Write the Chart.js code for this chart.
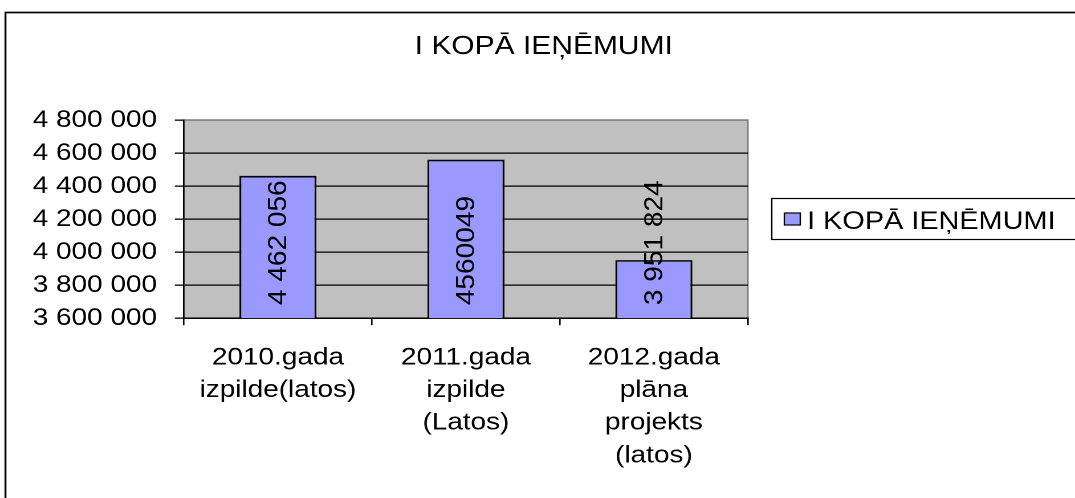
<!DOCTYPE html>
<html>
<head>
<meta charset="utf-8">
<script src="https://cdn.jsdelivr.net/npm/chart.js@4/dist/chart.umd.min.js"></script>
<style>
  html, body { margin: 0; padding: 0; background: #fff; overflow: hidden; }
  #wrap { width: 1075px; height: 498px; overflow: hidden; }
  /* the original picture is stretched sideways a little, so the canvas is too */
  #chart { transform: scaleX(1.14); transform-origin: 0 0; }
</style>
</head>
<body>
<div id="wrap"><canvas id="chart" width="943" height="498"></canvas></div>
<script>
var seriesName = 'I KOPĀ IEŅĒMUMI';
var categories = [
  ['2010.gada', 'izpilde(latos)'],
  ['2011.gada', 'izpilde', '(Latos)'],
  ['2012.gada', 'plāna', 'projekts', '(latos)']
];
var revenue = [4462056, 4560049, 3951824];
var valueLabels = ['4 462 056', '4560049', '3 951 824'];
var yTickLabels = ['3 600 000', '3 800 000', '4 000 000', '4 200 000', '4 400 000', '4 600 000', '4 800 000'];

var FONT = '"Liberation Sans", Arial, sans-serif';

// white page, outer frame, grey plot area, title, legend
var framePlugin = {
  id: 'frame',
  beforeDraw: function(chart) {
    var ctx = chart.ctx, a = chart.chartArea;
    ctx.save();
    ctx.fillStyle = '#fff';
    ctx.fillRect(0, 0, chart.width, chart.height);
    ctx.strokeStyle = '#000';
    ctx.lineWidth = 1.7;
    ctx.strokeRect(4.8, 12.5, chart.width + 40, chart.height + 40);

    ctx.fillStyle = '#c0c0c0';
    ctx.fillRect(a.left, a.top, a.right - a.left, a.bottom - a.top);
    ctx.strokeStyle = '#808080';
    ctx.lineWidth = 1.5;
    ctx.strokeRect(a.left, a.top, a.right - a.left, a.bottom - a.top);

    ctx.fillStyle = '#000';
    ctx.font = '26.3px ' + FONT;
    ctx.textAlign = 'center';
    ctx.textBaseline = 'alphabetic';
    ctx.fillText(seriesName, 477, 54);
    ctx.restore();
  },
  afterDraw: function(chart) {
    var ctx = chart.ctx;
    var ds = chart.data.datasets[0];
    ctx.save();
    ctx.strokeStyle = '#000';
    ctx.lineWidth = 1.2;
    ctx.strokeRect(677, 198.5, 300, 41);
    ctx.fillStyle = ds.backgroundColor;
    ctx.fillRect(688, 213, 14, 12);
    ctx.strokeRect(688, 213, 14, 12);
    ctx.fillStyle = '#000';
    ctx.font = '25.3px ' + FONT;
    ctx.textAlign = 'left';
    ctx.textBaseline = 'alphabetic';
    ctx.fillText(ds.label, 708, 229);
    ctx.restore();
  }
};

// vertical value labels inside the bars
var valueLabelPlugin = {
  id: 'valueLabels',
  afterDatasetsDraw: function(chart) {
    var ctx = chart.ctx;
    var yScale = chart.scales.y;
    chart.getDatasetMeta(0).data.forEach(function(bar, i) {
      ctx.save();
      ctx.translate(bar.x + 1, yScale.bottom - 13);
      ctx.rotate(-Math.PI / 2);
      ctx.scale(1.22, 1);
      ctx.fillStyle = '#000';
      ctx.font = '23px ' + FONT;
      ctx.textAlign = 'left';
      ctx.textBaseline = 'middle';
      ctx.fillText(valueLabels[i], 0, 0);
      ctx.restore();
    });
  }
};

new Chart(document.getElementById('chart'), {
  type: 'bar',
  data: {
    labels: categories,
    datasets: [{
      label: seriesName,
      data: revenue,
      backgroundColor: '#9999ff',
      borderColor: '#000',
      borderWidth: 1.7,
      barPercentage: 0.41,
      categoryPercentage: 1
    }]
  },
  options: {
    responsive: false,
    animation: false,
    devicePixelRatio: 2,
    layout: { padding: { top: 120, left: 13, right: 287, bottom: 10 } },
    plugins: {
      legend: { display: false },
      title: { display: false },
      tooltip: { enabled: false }
    },
    scales: {
      x: {
        offset: true,
        grid: { display: true, drawOnChartArea: false, color: '#000', tickLength: 7, lineWidth: 1.3 },
        border: { color: '#000', width: 1.5 },
        ticks: {
          color: '#000',
          padding: 16,
          maxRotation: 0,
          autoSkip: false,
          font: { family: FONT, size: 24.5, lineHeight: 1.335 }
        }
      },
      y: {
        min: 3600000,
        max: 4800000,
        grid: {
          color: function(c) { return c.index === yTickLabels.length - 1 ? '#808080' : '#000'; },
          tickColor: '#000',
          tickLength: 8,
          lineWidth: 1.3
        },
        border: { color: '#000', width: 1.3 },
        ticks: {
          stepSize: 200000,
          color: '#000',
          padding: 15.7,
          font: { family: FONT, size: 24.5 },
          callback: function(value, index) { return yTickLabels[index]; }
        }
      }
    }
  },
  plugins: [framePlugin, valueLabelPlugin]
});
</script>
</body>
</html>
